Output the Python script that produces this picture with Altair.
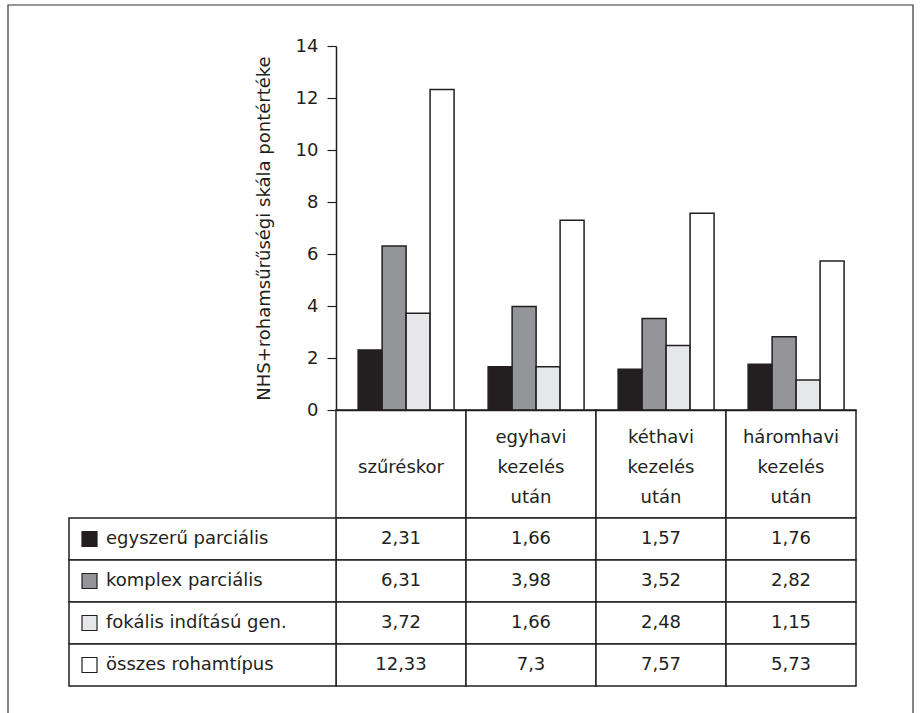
import altair as alt
import pandas as pd

# ---- data ----
categories = ["szűréskor", "egyhavi kezelés után", "kéthavi kezelés után", "háromhavi kezelés után"]
series = ["egyszerű parciális", "komplex parciális", "fokális indítású gen.", "összes rohamtípus"]
szureskor = [2.31, 6.31, 3.72, 12.33]
egyhavi = [1.66, 3.98, 1.66, 7.30]
kethavi = [1.57, 3.52, 2.48, 7.57]
haromhavi = [1.76, 2.82, 1.15, 5.73]
series_colors = ["#231f20", "#939598", "#e6e7e8", "#ffffff"]
y_ticks = [0, 2, 4, 6, 8, 10, 12, 14]
y_title = "NHS+rohamsűrűségi skála pontértéke"

rows = []
for cat, vals in zip(categories, [szureskor, egyhavi, kethavi, haromhavi]):
    for s, v in zip(series, vals):
        rows.append({"cat": cat, "series": s, "value": v,
                     "label": f"{v:g}".replace(".", ",")})
df = pd.DataFrame(rows)

# ---- layout ----
FONT = "DejaVu Sans"
INK = "#231f20"
W, H = 787, 640          # plot area (origin at 69,46)
LEG_W = 267              # legend column width
BAR_H = 364              # bar area height
HEAD_H = 108             # header row height
FS = 18

x_enc = alt.X(
    "cat:N", sort=categories,
    scale=alt.Scale(domain=categories, range=[LEG_W, W], paddingInner=0, paddingOuter=0),
    axis=alt.Axis(orient="bottom", offset=-(H - BAR_H), title=None, labelAngle=0,
                  labelExpr="length(split(datum.label, ' ')) == 1 ? ['', datum.label] : split(datum.label, ' ')",
                  labelBaseline="middle",
                  labelPadding=27, labelLineHeight=30, labelFontSize=FS,
                  ticks=False, tickSize=0, domainColor=INK, domainWidth=1.5,
                  labelColor=INK, labelFont=FONT, labelOverlap=False, labelLimit=0),
)
fill_enc = alt.Fill("series:N", sort=series,
                    scale=alt.Scale(domain=series, range=series_colors), legend=None)

bars = alt.Chart(df).mark_bar(stroke=INK, strokeWidth=1.5).encode(
    x=x_enc,
    xOffset=alt.XOffset("series:N", sort=series,
                        scale=alt.Scale(domain=series, paddingInner=0, paddingOuter=0.71, align=0.65)),
    y=alt.Y("value:Q",
            scale=alt.Scale(domain=[0, 14], range=[BAR_H, 0], nice=False, zero=True),
            axis=alt.Axis(values=y_ticks, offset=-LEG_W, title=y_title, grid=False,
                          tickSize=9, tickColor=INK, tickWidth=1.2,
                          domainColor=INK, domainWidth=1.5,
                          labelFontSize=FS, labelColor=INK, labelFont=FONT, labelPadding=9,
                          titleFont=FONT, titleFontSize=18, titleFontWeight="normal",
                          titleColor=INK, titlePadding=22)),
    fill=fill_enc,
)

y_tab = alt.Y("series:N", sort=series,
              scale=alt.Scale(domain=series, range=[BAR_H + HEAD_H, H], paddingInner=0, paddingOuter=0),
              axis=None)
base = alt.Chart(df)

header_cells = base.transform_filter(alt.datum.series == series[0]).mark_rect(
    fill="white", stroke=INK, strokeWidth=1.5).encode(
    x=x_enc, y=alt.value(BAR_H), y2=alt.value(BAR_H + HEAD_H))
body_cells = base.mark_rect(fill="white", stroke=INK, strokeWidth=1.5).encode(x=x_enc, y=y_tab)
legend_cells = base.transform_filter(alt.datum.cat == categories[0]).mark_rect(
    fill="white", stroke=INK, strokeWidth=1.5).encode(
    x=alt.value(0), x2=alt.value(LEG_W), y=y_tab)
squares = base.transform_filter(alt.datum.cat == categories[0]).mark_point(
    shape="square", filled=True, size=225, stroke=INK, strokeWidth=1.2, opacity=1).encode(
    x=alt.value(20.5), y=y_tab, fill=fill_enc)
legend_text = base.transform_filter(alt.datum.cat == categories[0]).mark_text(
    align="left", baseline="middle", fontSize=FS, font=FONT, color=INK).encode(
    x=alt.value(37), y=y_tab, text="series:N")
value_text = base.mark_text(align="center", baseline="middle", fontSize=FS, font=FONT, color=INK).encode(
    x=x_enc, y=y_tab, text="label:N")

table = alt.layer(header_cells, body_cells, legend_cells, squares, legend_text, value_text)

frame = alt.Chart(pd.DataFrame({"a": [0]})).mark_rect(
    fill="white", fillOpacity=0, stroke="#333333", strokeWidth=1.2).encode(
    x=alt.value(-61), x2=alt.value(844), y=alt.value(-41), y2=alt.value(700))

chart = alt.layer(frame, table, bars).resolve_scale(y="independent").properties(
    width=W, height=H,
    padding={"left": 69, "top": 46, "right": 64, "bottom": 27},
    autosize=alt.AutoSizeParams(type="none"),
    background="white",
).configure_view(stroke=None)

chart.save("out.html", embed_options={"renderer": "svg", "actions": False})
